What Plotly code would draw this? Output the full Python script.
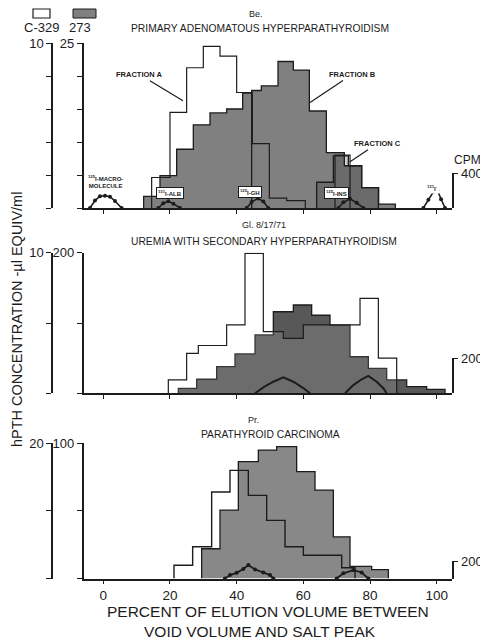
import plotly.graph_objects as go

# ---------------- data ----------------
x_ticks = [0, 20, 40, 60, 80, 100]

# Panel 1  (Be. primary adenomatous hyperparathyroidism)
p1_c329_edges = [14.5, 20, 25, 30, 35, 40, 44.7, 49.8, 55, 60.6]
p1_c329_vals = [1.85, 5.8, 8.5, 9.8, 9.2, 7.0, 3.9, 0.6, 0.45]
p1_c329_fracC_edges = [69.5, 74]
p1_c329_fracC_vals = [3.2]
p1_273_fracA_edges = [12.1, 17, 22, 27, 32, 37, 41.8, 44.5]
p1_273_fracA_vals = [1.76, 4.9, 8.9, 12.6, 14.4, 15.0, 17.4]
p1_273_fracB_edges = [44.5, 47.4, 52.4, 57, 61.8, 66.9, 72.3, 77.5, 82.6, 87.6]
p1_273_fracB_vals = [17.8, 18.5, 22.2, 20.9, 14.7, 8.4, 6.4, 3.1, 0.6]
p1_273_fracC_edges = [64, 69, 73.5, 77.5, 82.5]
p1_273_fracC_vals = [3.9, 7.9, 6.4, 3.1]

p1_marker_macro_x = [-4, -2.5, -1, 0.5, 2, 3.5, 5.5]
p1_marker_macro_cpm = [0, 85, 135, 140, 130, 80, 0]
p1_marker_alb_x = [16.5, 18, 19.5, 21, 23]
p1_marker_alb_cpm = [0, 55, 76, 50, 0]
p1_marker_gh_x = [43, 44.5, 46.4, 48, 49.5]
p1_marker_gh_cpm = [0, 70, 110, 75, 0]
p1_marker_ins_x = [70.5, 72, 74, 76, 78]
p1_marker_ins_cpm = [0, 65, 105, 60, 0]
p1_marker_i_x = [96, 97.5, 99, 100.2, 101.3, 102.5]
p1_marker_i_cpm = [0, 95, 185, 200, 100, 0]

# Panel 2  (Gl. 8/17/71 uremia)
p2_c329_edges = [19.5, 25, 28.5, 37, 42.5, 48, 54, 60, 77, 82.5, 88]
p2_c329_vals = [0.95, 2.84, 3.4, 4.86, 9.95, 4.38, 3.9, 4.86, 6.75, 2.5]
p2_273_edges = [22.5, 28, 34, 39.5, 45.5, 51, 57, 62.5, 68, 74, 79.5, 85, 91, 97, 102.5]
p2_273_vals = [7, 20, 38, 56, 83, 116, 125.6, 111, 97, 52, 35.5, 19, 9.5, 5.7]
p2_arc1_x = [45.5, 48, 51, 54, 57, 60, 62]
p2_arc1_cpm = [0, 34, 66, 91, 66, 30, 0]
p2_arc2_x = [72.5, 75, 77.5, 79.5, 82, 84, 85]
p2_arc2_cpm = [0, 47, 80, 99, 66, 29, 0]

# Panel 3  (Pr. parathyroid carcinoma)
p3_c329_edges = [21.2, 26.8, 32.5, 38, 43.5, 49, 54.5, 60, 71.5, 75.5]
p3_c329_vals = [1.97, 4.7, 12.8, 16.0, 12.3, 8.6, 4.7, 3.45, 1.6]
p3_273_edges = [29.5, 35, 40.5, 46.5, 52, 58, 63.5, 69, 74, 80.5, 85.5]
p3_273_vals = [22, 50.6, 86.4, 95, 97.5, 79, 65.4, 30.8, 9, 6.6]
p3_arc1_x = [36.5, 38, 40, 42, 43.5, 45.5, 48, 50, 51]
p3_arc1_cpm = [0, 40, 66, 110, 156, 105, 70, 40, 0]
p3_arc2_x = [70, 72, 75, 77.5, 79.5]
p3_arc2_cpm = [0, 60, 98, 70, 0]

# ---------------- layout helpers ----------------
W, H = 480, 642
FONT = "Liberation Sans"
INK = "#1c1c1c"


def fx(px):
    return px / W


def fy(py):
    return 1 - py / H


def steps(edges, vals):
    xs, ys = [edges[0]], [0]
    for i, v in enumerate(vals):
        xs += [edges[i], edges[i + 1]]
        ys += [v, v]
    xs.append(edges[-1])
    ys.append(0)
    return xs, ys


XDOM = [fx(83.5), fx(451.7)]
XRANGE = [-5.94, 104.5]

fig = go.Figure()


def add_hist(edges, vals, xa, ya, fill, lw=1.3):
    xs, ys = steps(edges, vals)
    fig.add_trace(go.Scatter(x=xs, y=ys, xaxis=xa, yaxis=ya, mode="lines",
                             fill="toself", fillcolor=fill,
                             line=dict(color=INK, width=lw),
                             hoverinfo="skip", showlegend=False))


def add_cpm(xs, cpm, xa, ya, markers=True, lw=1.6):
    fig.add_trace(go.Scatter(x=xs, y=cpm, xaxis=xa, yaxis=ya,
                             mode="lines+markers" if markers else "lines",
                             line=dict(color=INK, width=lw),
                             marker=dict(color=INK, size=4),
                             cliponaxis=False, hoverinfo="skip", showlegend=False))


# Panel 1
add_hist(p1_273_fracA_edges, p1_273_fracA_vals, "x", "y", "#808080")
add_hist(p1_273_fracB_edges, p1_273_fracB_vals, "x", "y", "#808080")
add_hist(p1_273_fracC_edges, p1_273_fracC_vals, "x", "y", "rgba(30,30,30,0.22)")
add_hist(p1_c329_edges, p1_c329_vals, "x", "y2", "rgba(255,255,255,0)", 1.2)
add_hist(p1_c329_fracC_edges, p1_c329_fracC_vals, "x", "y2", "rgba(255,255,255,0)", 1.2)
for mx, mc in [(p1_marker_macro_x, p1_marker_macro_cpm), (p1_marker_alb_x, p1_marker_alb_cpm),
               (p1_marker_gh_x, p1_marker_gh_cpm), (p1_marker_ins_x, p1_marker_ins_cpm),
               (p1_marker_i_x, p1_marker_i_cpm)]:
    add_cpm(mx, mc, "x", "y3")

# Panel 2
add_hist(p2_273_edges, p2_273_vals, "x2", "y4", "#585858")
add_hist(p2_c329_edges, p2_c329_vals, "x2", "y5", "rgba(255,255,255,0.12)", 1.2)
add_cpm(p2_arc1_x, p2_arc1_cpm, "x2", "y6", markers=False, lw=2)
add_cpm(p2_arc2_x, p2_arc2_cpm, "x2", "y6", markers=False, lw=2)

# Panel 3
add_hist(p3_273_edges, p3_273_vals, "x3", "y7", "#888888")
add_hist(p3_c329_edges, p3_c329_vals, "x3", "y8", "rgba(255,255,255,0)", 1.4)
add_cpm(p3_arc1_x, p3_arc1_cpm, "x3", "y9", lw=1.8)
add_cpm(p3_arc2_x, p3_arc2_cpm, "x3", "y9", lw=1.8)

# ---------------- axes ----------------
tickfont = dict(family=FONT, size=13, color=INK)


def xaxis_def(anchor, labels):
    return dict(domain=XDOM, range=XRANGE, anchor=anchor, showgrid=False, zeroline=False,
                automargin=False,
                showline=True, linecolor=INK, linewidth=1.5,
                ticks="outside", ticklen=4, tickwidth=1.3, tickcolor=INK,
                tickvals=x_ticks, showticklabels=labels, tickfont=dict(family=FONT, size=13.5, color=INK))


def yaxis_def(dom, rng, step, top_label, xanchor="x", overlay=None, pos=None):
    vals = []
    v = 0
    while v <= rng + 1e-9:
        vals.append(v)
        v += step
    text = [" "] * (len(vals) - 1) + [top_label]
    d = dict(range=[0, rng], showgrid=False, zeroline=False, showline=True, automargin=False,
             linecolor=INK, linewidth=1.5, ticks="outside", ticklen=5, tickwidth=1.3,
             tickcolor=INK, tickvals=vals, ticktext=text, tickfont=tickfont, side="left")
    if overlay:
        d.update(overlaying=overlay, anchor="free", position=pos)
    else:
        d.update(domain=dom, anchor=xanchor)
    return d


def cpm_axis(dom, rng, xanchor):
    return dict(domain=dom, range=[0, rng], anchor=xanchor, side="right", showgrid=False,
                zeroline=False, showline=True, linecolor=INK, linewidth=1.5, automargin=False,
                ticks="outside", ticklen=5, tickwidth=1.3, tickcolor=INK,
                tickvals=[rng], ticktext=[str(rng)], tickfont=tickfont)


P1 = [fy(208), fy(43)]
P2 = [fy(393.3), fy(252.7)]
P3 = [fy(578.5), fy(443.3)]

fig.update_layout(
    width=W, height=H, margin=dict(l=0, r=0, t=0, b=0, autoexpand=False),
    paper_bgcolor="white", plot_bgcolor="rgba(0,0,0,0)", showlegend=False,
    xaxis=xaxis_def("y", False),
    xaxis2=xaxis_def("y4", False),
    xaxis3=xaxis_def("y7", True),
    yaxis=yaxis_def(P1, 25, 5, "25"),
    yaxis2=yaxis_def(None, 10, 2, "10", overlay="y", pos=fx(52)),
    yaxis3=cpm_axis([fy(208), fy(173)], 400, "x"),
    yaxis4=yaxis_def(P2, 200, 100, "200", xanchor="x2"),
    yaxis5=yaxis_def(None, 10, 5, "10", overlay="y4", pos=fx(52)),
    yaxis6=cpm_axis([fy(393.3), fy(358.3)], 200, "x2"),
    yaxis7=yaxis_def(P3, 100, 50, "100", xanchor="x3"),
    yaxis8=yaxis_def(None, 20, 10, "20", overlay="y7", pos=fx(52)),
    yaxis9=cpm_axis([fy(578.5), fy(561.3)], 200, "x3"),
)

# ---------------- text ----------------
ann = []


def txt(x, y, s, size=10, **kw):
    d = dict(x=fx(x), y=fy(y), xref="paper", yref="paper", text=s, showarrow=False,
             font=dict(family=FONT, size=size, color=INK), xanchor="center", yanchor="middle")
    d.update(kw)
    ann.append(d)


# legend
fig.add_shape(type="rect", xref="paper", yref="paper", x0=fx(33), x1=fx(50), y0=fy(18), y1=fy(9),
              line=dict(color=INK, width=1.2), fillcolor="white")
fig.add_shape(type="rect", xref="paper", yref="paper", x0=fx(73), x1=fx(96), y0=fy(18), y1=fy(9),
              line=dict(color=INK, width=1.0), fillcolor="#808080")
txt(41, 27.5, "C-329", 13)
txt(80, 27.5, "273", 13)

# titles
txt(256, 14, "Be.", 9)
txt(260, 29, "PRIMARY ADENOMATOUS HYPERPARATHYROIDISM", 10.3)
txt(264, 225, "Gl. 8/17/71", 9)
txt(264, 242, "UREMIA WITH SECONDARY HYPERPARATHYROIDISM", 10.3)
txt(253, 420, "Pr.", 9)
txt(270, 434, "PARATHYROID CARCINOMA", 10.3)

# axis titles
txt(268, 611, "PERCENT OF ELUTION VOLUME BETWEEN", 15.5)
txt(260, 631, "VOID VOLUME AND SALT PEAK", 15.5)
txt(17, 320, "hPTH CONCENTRATION -µl EQUIV/ml", 14.5, textangle=-90)
txt(467, 160, "CPM", 12)

# fraction labels with pointers
frac_font = dict(family=FONT, size=7.5, color=INK)
ann.append(dict(x=23.9, y=6.5, xref="x", yref="y2", text="<b>FRACTION A</b>", ax=-43, ay=-26,
                showarrow=True, arrowhead=0, arrowwidth=1.2, arrowcolor=INK, font=frac_font, standoff=0))
ann.append(dict(x=62.0, y=16.0, xref="x", yref="y", text="<b>FRACTION B</b>", ax=42, ay=-28,
                showarrow=True, arrowhead=0, arrowwidth=1.2, arrowcolor=INK, font=frac_font, standoff=0))
ann.append(dict(x=74.0, y=2.8, xref="x", yref="y2", text="<b>FRACTION C</b>", ax=27, ay=-18,
                showarrow=True, arrowhead=0, arrowwidth=1.2, arrowcolor=INK, font=frac_font, standoff=0))

# marker labels
mk_font = dict(family=FONT, size=6, color=INK)
for xv, yv, s in [(0.8, 300, "<b><sup>125</sup>I-MACRO-<br>MOLECULE</b>"),
                  (20, 172, "<b><sup>131</sup>I-ALB</b>"),
                  (44, 183, "<b><sup>125</sup>I-GH</b>"),
                  (70, 172, "<b><sup>125</sup>I-INS</b>"),
                  (98.8, 229, "<b><sup>131</sup>I<sup>-</sup></b>")]:
    ann.append(dict(x=xv, y=yv, xref="x", yref="y3", text=s, showarrow=False, font=mk_font,
                    bgcolor="white", bordercolor=INK if xv not in (0.8, 98.8) else "rgba(0,0,0,0)",
                    borderwidth=1, borderpad=1))

fig.update_layout(annotations=ann)
fig.write_html("out.html", config={"displayModeBar": False},
               post_script="document.body.style.margin='0';document.body.style.overflow='hidden';")
